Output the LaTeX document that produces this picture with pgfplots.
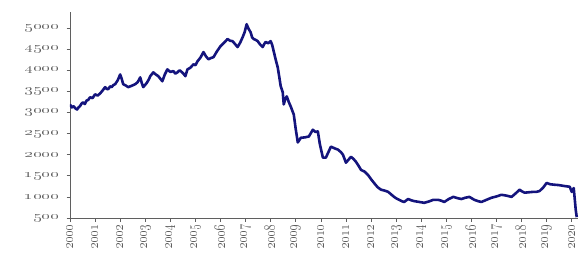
\documentclass[border=0pt]{standalone}
\usepackage{pgfplots}
\pgfplotsset{compat=1.18}
\definecolor{navyline}{RGB}{20,20,125}
\definecolor{tickgray}{RGB}{95,95,95}
\newcommand{\ylab}[1]{\scalebox{1.45}[1]{\oldstylenums{#1}}}
\newcommand{\xlab}[1]{\scalebox{1}[1.35]{\oldstylenums{#1}}}
\begin{document}
\begin{tikzpicture}
\begin{axis}[
  at={(0,0)}, anchor=south west,
  scale only axis, width=508pt, height=206pt,
  xmin=2000, xmax=2020.25, ymin=500, ymax=5380,
  axis x line*=bottom, axis y line*=left,
  axis line style={-, tickgray, line width=0.6pt},
  tick align=outside, major tick length=3.5pt,
  tick style={tickgray, line width=0.6pt},
  xtick={2000,2001,...,2020},
  xticklabels={\xlab{2000},\xlab{2001},\xlab{2002},\xlab{2003},\xlab{2004},\xlab{2005},\xlab{2006},\xlab{2007},\xlab{2008},\xlab{2009},\xlab{2010},\xlab{2011},\xlab{2012},\xlab{2013},\xlab{2014},\xlab{2015},\xlab{2016},\xlab{2017},\xlab{2018},\xlab{2019},\xlab{2020}},
  ytick={500,1000,...,5000},
  yticklabels={\ylab{500},\ylab{1000},\ylab{1500},\ylab{2000},\ylab{2500},\ylab{3000},\ylab{3500},\ylab{4000},\ylab{4500},\ylab{5000}},
  xticklabel style={rotate=90, anchor=east, font=\fontsize{13}{13}\selectfont, text=tickgray},
  yticklabel style={font=\fontsize{12}{12}\selectfont, text=tickgray, xshift=-4pt},
]
\addplot[navyline, line width=2.6pt, line join=round] coordinates {
(2000.00,3190) (2000.07,3120) (2000.14,3150) (2000.21,3100) (2000.28,3070) (2000.34,3120)
(2000.40,3150) (2000.46,3210) (2000.52,3240) (2000.59,3200) (2000.66,3280) (2000.73,3300)
(2000.80,3360) (2000.90,3340) (2001.00,3430) (2001.10,3400) (2001.20,3450) (2001.30,3520)
(2001.40,3600) (2001.46,3560) (2001.52,3550) (2001.60,3620) (2001.66,3600) (2001.73,3650)
(2001.80,3670) (2001.90,3760) (2002.00,3900) (2002.06,3800) (2002.12,3670) (2002.22,3640)
(2002.32,3600) (2002.45,3630) (2002.60,3670) (2002.70,3720) (2002.80,3830) (2002.86,3700)
(2002.92,3600) (2003.06,3700) (2003.14,3780) (2003.20,3860) (2003.32,3950) (2003.42,3900)
(2003.52,3860) (2003.60,3800) (2003.68,3740) (2003.78,3900) (2003.88,4020) (2004.00,3960)
(2004.12,3980) (2004.20,3920) (2004.28,3950) (2004.37,4000) (2004.45,3960) (2004.52,3920)
(2004.60,3860) (2004.68,4020) (2004.80,4060) (2004.92,4140) (2005.00,4120) (2005.08,4210)
(2005.20,4300) (2005.32,4430) (2005.42,4330) (2005.52,4260) (2005.62,4290) (2005.72,4310)
(2005.86,4450) (2006.00,4570) (2006.14,4650) (2006.28,4740) (2006.38,4700) (2006.48,4690)
(2006.58,4620) (2006.68,4550) (2006.78,4650) (2006.88,4780) (2006.96,4900) (2007.04,5090)
(2007.12,4980) (2007.20,4900) (2007.26,4780) (2007.32,4740) (2007.40,4720) (2007.48,4690)
(2007.58,4610) (2007.68,4550) (2007.74,4620) (2007.80,4670) (2007.90,4640) (2008.00,4690)
(2008.06,4600) (2008.12,4450) (2008.20,4250) (2008.28,4070) (2008.34,3850) (2008.40,3620)
(2008.48,3480) (2008.52,3190) (2008.58,3320) (2008.64,3380) (2008.72,3250) (2008.80,3140)
(2008.92,2950) (2009.00,2600) (2009.08,2290) (2009.20,2400) (2009.36,2410) (2009.52,2430)
(2009.68,2590) (2009.78,2540) (2009.88,2550) (2009.96,2250) (2010.08,1930) (2010.20,1930)
(2010.40,2190) (2010.55,2150) (2010.68,2120) (2010.80,2060) (2010.88,2000) (2011.00,1810)
(2011.20,1950) (2011.30,1900) (2011.40,1830) (2011.50,1740) (2011.60,1640) (2011.74,1600)
(2011.88,1520) (2012.00,1420) (2012.12,1330) (2012.26,1230) (2012.40,1170) (2012.54,1150)
(2012.68,1120) (2012.80,1060) (2012.92,1000) (2013.02,960) (2013.12,930) (2013.22,900)
(2013.32,880) (2013.48,950) (2013.60,920) (2013.72,900) (2013.92,880) (2014.12,860)
(2014.30,890) (2014.48,930) (2014.68,930) (2014.80,910) (2014.92,880) (2015.10,950)
(2015.28,1000) (2015.45,970) (2015.60,950) (2015.76,980) (2015.92,1000) (2016.12,930)
(2016.26,900) (2016.40,880) (2016.60,930) (2016.80,980) (2017.00,1010) (2017.20,1050)
(2017.40,1030) (2017.60,1000) (2017.76,1080) (2017.92,1170) (2018.02,1130) (2018.12,1100)
(2018.30,1110) (2018.48,1120) (2018.60,1120) (2018.72,1140) (2018.86,1220) (2019.00,1330)
(2019.14,1300) (2019.28,1290) (2019.48,1280) (2019.68,1260) (2019.80,1250) (2019.92,1240)
(2020.00,1120) (2020.08,1210) (2020.16,690) (2020.20,520)
};
\end{axis}
\pgfresetboundingbox
\path (-70pt,-34pt) rectangle (509pt,218pt);
\end{tikzpicture}
\end{document}
